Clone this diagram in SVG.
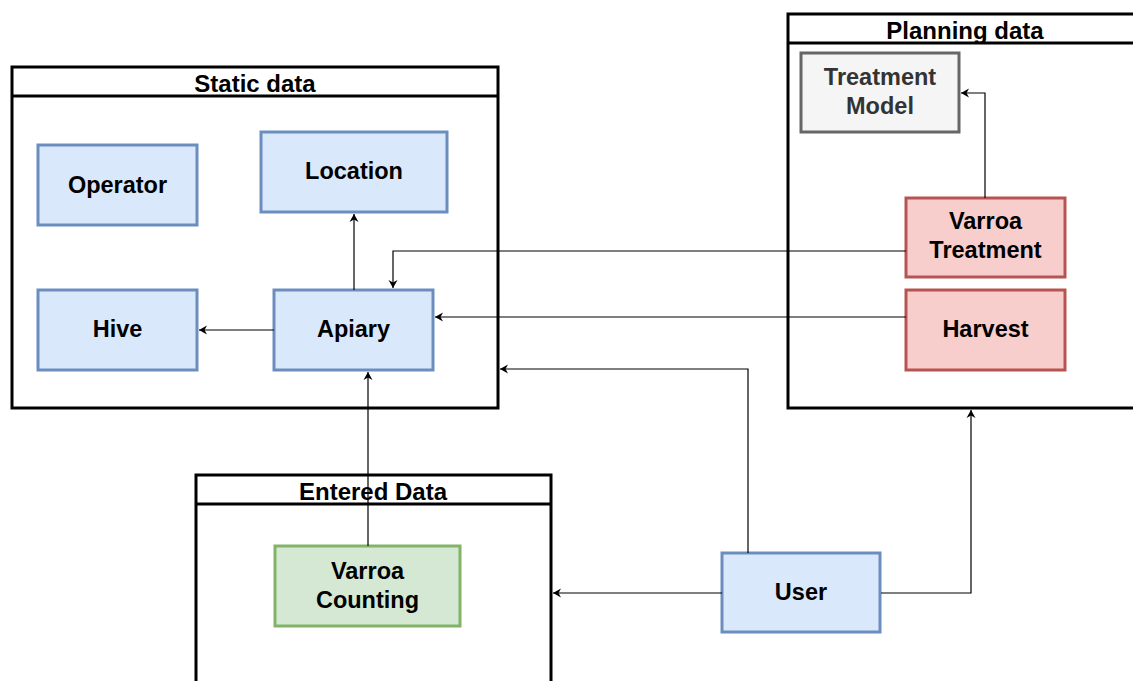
<svg xmlns="http://www.w3.org/2000/svg" width="1133" height="681" viewBox="0 0 1133 681">
<style>
.cont{fill:#ffffff;stroke:#000000;stroke-width:3}
.hdr{fill:none;stroke:#000000;stroke-width:3}
.title{font-family:"Liberation Sans",Arial,sans-serif;font-weight:bold;font-size:24px;fill:#000;text-anchor:middle}
.lbl{font-family:"Liberation Sans",Arial,sans-serif;font-weight:bold;font-size:23.5px;fill:#000;text-anchor:middle}
.blue{fill:#dae8fc;stroke:#6c8ebf;stroke-width:3}
.red{fill:#f8cecc;stroke:#b85450;stroke-width:3}
.green{fill:#d5e8d4;stroke:#82b366;stroke-width:3}
.gray{fill:#f5f5f5;stroke:#666666;stroke-width:3}
.edge{fill:none;stroke:#000000;stroke-width:1.2}
</style>
<defs>
<marker id="arr" markerUnits="userSpaceOnUse" markerWidth="10" markerHeight="10" refX="8" refY="4.5" orient="auto" viewBox="0 0 10 9">
<path d="M0,0 L8,4.5 L0,9 L2.5,4.5 Z" fill="#000"/>
</marker>
</defs>

<g id="static-data">
<rect class="cont" x="12" y="67" width="486" height="341"/>
<line class="hdr" x1="12" y1="96" x2="498" y2="96"/>
<text class="title" x="255" y="92">Static data</text>
</g>
<g id="planning-data">
<rect class="cont" x="788" y="14" width="360" height="394"/>
<line class="hdr" x1="788" y1="43" x2="1148" y2="43"/>
<text class="title" x="965" y="39">Planning data</text>
</g>
<g id="entered-data">
<rect class="cont" x="196" y="475" width="355" height="230"/>
<line class="hdr" x1="196" y1="504" x2="551" y2="504"/>
<text class="title" x="373" y="500">Entered Data</text>
</g>

<g id="operator">
<rect class="blue" x="38" y="145" width="159" height="80"/>
<text class="lbl" x="117.5" y="193">Operator</text>
</g>
<g id="location">
<rect class="blue" x="261" y="132" width="186" height="80"/>
<text class="lbl" x="354" y="179">Location</text>
</g>
<g id="hive">
<rect class="blue" x="38" y="290" width="159" height="80"/>
<text class="lbl" x="117.5" y="337">Hive</text>
</g>
<g id="apiary">
<rect class="blue" x="274" y="290" width="159" height="80"/>
<text class="lbl" x="353.5" y="337">Apiary</text>
</g>
<g id="treatment-model">
<rect class="gray" x="801" y="53" width="158" height="79"/>
<text class="lbl" x="880" y="85" style="fill:#333333">Treatment</text>
<text class="lbl" x="880" y="114" style="fill:#333333">Model</text>
</g>
<g id="varroa-treatment">
<rect class="red" x="906" y="198" width="159" height="79"/>
<text class="lbl" x="985.5" y="229">Varroa</text>
<text class="lbl" x="985.5" y="258">Treatment</text>
</g>
<g id="harvest">
<rect class="red" x="906" y="290" width="159" height="80"/>
<text class="lbl" x="985.5" y="337">Harvest</text>
</g>
<g id="varroa-counting">
<rect class="green" x="275" y="546" width="185" height="80"/>
<text class="lbl" x="367.5" y="579">Varroa</text>
<text class="lbl" x="367.5" y="608">Counting</text>
</g>
<g id="user">
<rect class="blue" x="722" y="553" width="158" height="79"/>
<text class="lbl" x="801" y="600">User</text>
</g>

<g id="connectors">
<path class="edge" d="M354,290 V214" marker-end="url(#arr)"/>
<path class="edge" d="M274,330 H199" marker-end="url(#arr)"/>
<path class="edge" d="M906,251 H393 V288" marker-end="url(#arr)"/>
<path class="edge" d="M906,317 H435" marker-end="url(#arr)"/>
<path class="edge" d="M985,198 V93 H961" marker-end="url(#arr)"/>
<path class="edge" d="M368,546 V372" marker-end="url(#arr)"/>
<path class="edge" d="M748,553 V369 H500" marker-end="url(#arr)"/>
<path class="edge" d="M722,593 H553" marker-end="url(#arr)"/>
<path class="edge" d="M881,593 H971 V410" marker-end="url(#arr)"/>
</g>
</svg>
